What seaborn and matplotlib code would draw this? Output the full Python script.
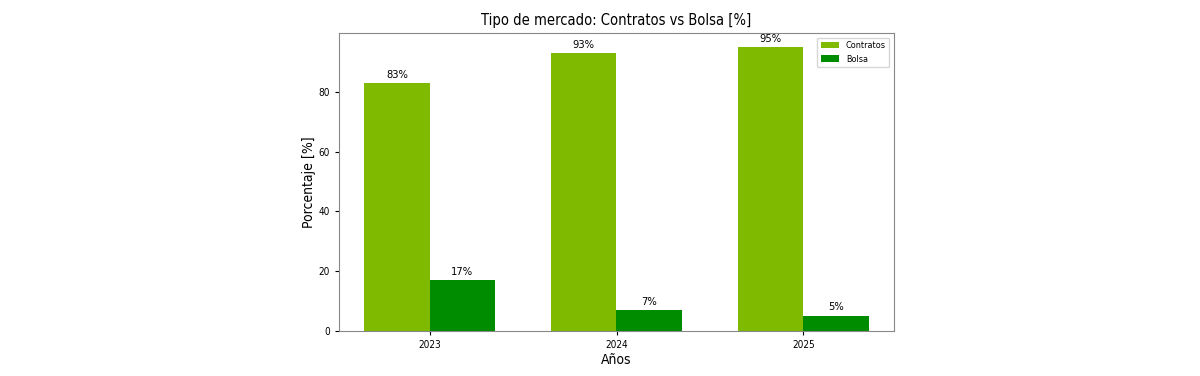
import matplotlib
matplotlib.use("Agg")
import matplotlib.pyplot as plt
import seaborn as sns
import pandas as pd

plt.rcParams["font.stretch"] = "condensed"

years = ["2023", "2024", "2025"]
contratos = [83, 93, 95]
bolsa = [17, 7, 5]
series_names = ["Contratos", "Bolsa"]
colors = ["#7fba00", "#008c00"]

df = pd.DataFrame({
    "Año": years * 2,
    "Serie": [series_names[0]] * 3 + [series_names[1]] * 3,
    "Valor": contratos + bolsa,
})

fig = plt.figure(figsize=(12, 3.76), dpi=100)
ax = fig.add_axes([0.2825, 0.12, 0.4625, 0.792])
sns.barplot(data=df, x="Año", y="Valor", hue="Serie", palette=colors,
            ax=ax, width=0.7, saturation=1, errorbar=None)
ax.set_xlim(-0.485, 2.485)

for c in ax.containers:
    ax.bar_label(c, labels=[f"{int(v)}%" for v in c.datavalues], padding=2.5, fontsize=8)

ax.set_title("Tipo de mercado: Contratos vs Bolsa [%]", fontsize=10.5)
ax.set_xlabel("Años", fontsize=10, labelpad=2)
ax.set_ylabel("Porcentaje [%]", fontsize=10, labelpad=1.5)
ax.tick_params(labelsize=7.2, length=3)
for s in ax.spines.values():
    s.set_color("#888888")
ax.legend(fontsize=6.5, loc="upper right")
fig.savefig("out.png", dpi=100)
